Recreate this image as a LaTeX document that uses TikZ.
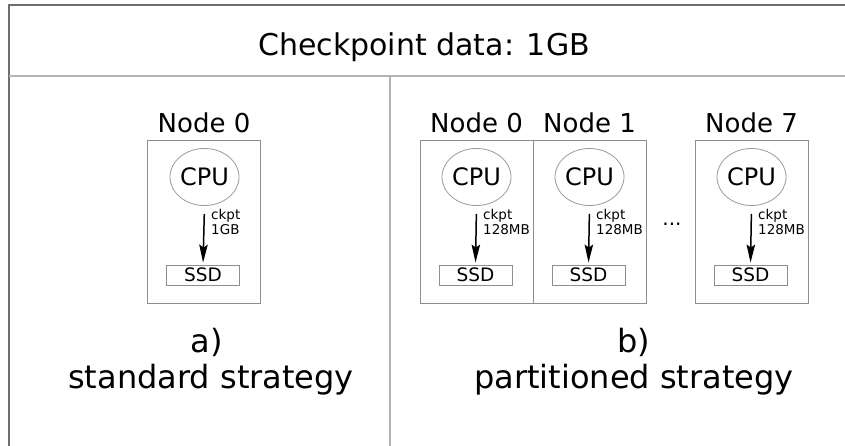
\documentclass[tikz,border=0pt]{standalone}
\usepackage{fontspec}
\setmainfont{DejaVu Sans}
\usetikzlibrary{shapes.geometric,arrows.meta}
\definecolor{framedark}{HTML}{6E6E6E}
\definecolor{framelight}{HTML}{B4B4B4}
\definecolor{boxgray}{HTML}{8E8E8E}
\definecolor{ellgray}{HTML}{9A9A9A}
\tikzset{
  fs/.style={font=\fontsize{#1}{#1}\selectfont},
  nodebox/.style={draw=boxgray, line width=0.9pt, minimum width=113pt, minimum height=163pt, inner sep=0pt},
  cpu/.style={ellipse, draw=ellgray, line width=0.8pt, minimum width=65pt, minimum height=57pt, inner sep=0pt, fs=24},
  ssd/.style={draw=boxgray, line width=0.9pt, minimum width=73pt, minimum height=20pt, inner sep=0pt, fs=18.5},
  nodelabel/.style={anchor=base, fs=26, inner sep=0pt},
  ckptarrow/.style={line width=1.5pt, -{Stealth[length=18pt,width=8.5pt,inset=3pt]}, shorten <=8pt, shorten >=2pt},
  ckptlabel/.style={anchor=north west, align=left, inner sep=0pt, font=\fontsize{13.5}{15}\selectfont},
  caption/.style={anchor=base, inner sep=0pt, fs=32},
}
\begin{document}
\begin{tikzpicture}[x=1pt,y=-1pt]
\useasboundingbox (0,0) rectangle (845,446);

% outer frame and panel dividers
\coordinate (tl) at (9,5);
\coordinate (tr) at (845,5);
\coordinate (bl) at (9,446);
\coordinate (ml) at (9,76);
\coordinate (mr) at (845,76);
\coordinate (dt) at (390,76);
\coordinate (db) at (390,446);
\draw[framedark, line width=1.3pt] (tr) -- (tl) -- (bl);
\draw[framelight, line width=2pt] (ml) -- (mr);
\draw[framelight, line width=1.5pt] (dt) -- (db);

% title
\node[anchor=base, inner sep=0pt, fs=30] (title) at (424,56) {Checkpoint data: 1GB};

% a) standard strategy
\node[nodebox] (boxA) at (204,221.5) {};
\node[nodelabel] (labA) at (204,133) {Node 0};
\node[cpu] (cpuA) at (204.5,177) {CPU};
\node[ssd] (ssdA) at (203,275) {SSD};
\draw[ckptarrow] (cpuA.south) -- (ssdA.north);
\node[ckptlabel] (ckA) at (211,209) {ckpt\\1GB};
\node[caption] (capA1) at (207,352) {a)};
\node[caption] (capA2) at (211,388) {standard strategy};

% b) partitioned strategy
\foreach \n/\x in {0/476.5, 1/589.5, 7/751.5}{
  \node[nodebox] (boxB\n) at (\x,221.5) {};
  \node[nodelabel] (labB\n) at (\x,133) {Node \n};
  \node[cpu] (cpuB\n) at (\x,177) {CPU};
  \node[ssd] (ssdB\n) at (\x-1,275) {SSD};
  \draw[ckptarrow] (cpuB\n.south) -- (ssdB\n.north);
  \node[ckptlabel] (ckB\n) at (\x+6.5,209) {ckpt\\128MB};
}
\node[inner sep=0pt, fs=20] (dots) at (672,224) {...};
\node[caption] (capB1) at (634,352) {b)};
\node[caption] (capB2) at (634,388) {partitioned strategy};
\end{tikzpicture}
\end{document}
